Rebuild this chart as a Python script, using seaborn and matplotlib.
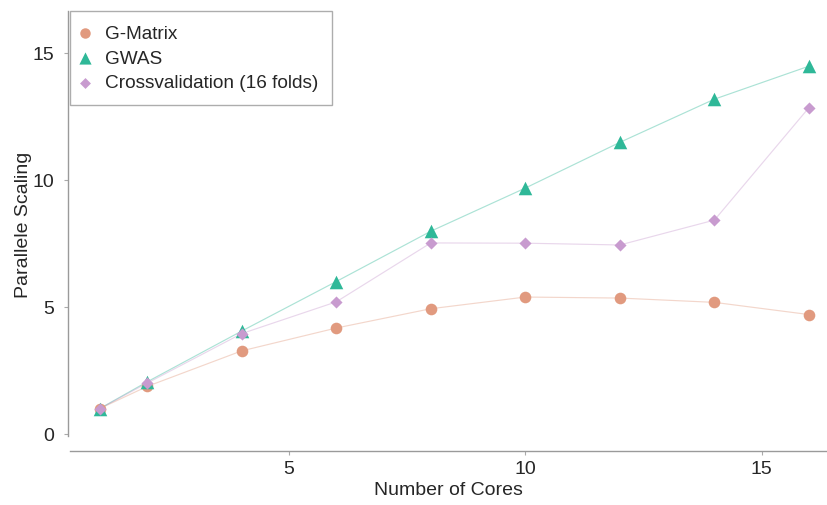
import matplotlib
matplotlib.use('Agg')
import matplotlib.pyplot as plt
import pandas as pd
import seaborn as sns

# Data
CORES = [1, 2, 4, 6, 8, 10, 12, 14, 16]
G_MATRIX = [1.0, 1.87, 3.27, 4.17, 4.93, 5.39, 5.35, 5.18, 4.70]
GWAS = [1.0, 2.05, 4.05, 6.0, 7.98, 9.68, 11.48, 13.18, 14.48]
CROSSVAL = [1.0, 2.0, 3.95, 5.2, 7.52, 7.51, 7.44, 8.42, 12.85]
SERIES = ['G-Matrix', 'GWAS', 'Crossvalidation (16 folds)']

COLORS = ['#e19a7f', '#2fb898', '#c89bcf']
MARKERS = ['o', '^', 'D']
SIZES = [70, 95, 38]

sns.set_theme(style='white')
plt.rcParams['font.family'] = ['Liberation Sans', 'DejaVu Sans']

df = pd.DataFrame({
    'cores': CORES * 3,
    'scaling': G_MATRIX + GWAS + CROSSVAL,
    'series': [s for s in SERIES for _ in CORES],
})

fig = plt.figure(figsize=(8.27, 5.06), dpi=100)
ax = fig.add_axes([70 / 827, 1 - 437 / 506, 1 - 70 / 827, 425 / 506])

# Thin pale connecting lines
for name, color in zip(SERIES, COLORS):
    sub = df[df['series'] == name]
    sns.lineplot(data=sub, x='cores', y='scaling', color=color, alpha=0.4,
                 linewidth=0.85, ax=ax, legend=False)

# Markers
for name, color, marker, size in zip(SERIES, COLORS, MARKERS, SIZES):
    sub = df[df['series'] == name]
    sns.scatterplot(data=sub, x='cores', y='scaling', color=color, marker=marker,
                    s=size, linewidth=0, ax=ax, label=name, zorder=3)

ax.set_xlim(0.37, 16.38)
ax.set_ylim(-0.08, 16.65)
ax.set_xticks([5, 10, 15])
ax.set_yticks([0, 5, 10, 15])

sns.despine(ax=ax)
ax.spines['bottom'].set_position(('outward', 11))
ax.spines['left'].set_position(('outward', 1.5))
for side in ['left', 'bottom']:
    ax.spines[side].set_color('#9a9a9a')
    ax.spines[side].set_linewidth(1.0)
ax.tick_params(axis='both', which='major', length=3, width=0.8, color='#aaaaaa',
               labelsize=14, bottom=True, left=True)
ax.tick_params(axis='y', pad=7)
ax.tick_params(axis='x', pad=3)

ax.set_xlabel('Number of Cores', fontsize=14, labelpad=3)
ax.set_ylabel('Parallele Scaling', fontsize=14, labelpad=0)

leg = ax.legend(loc='upper left', fontsize=13.7, frameon=True, fancybox=False,
                borderaxespad=0, handletextpad=0.95, borderpad=0.7,
                labelspacing=0.4, handlelength=0.2, markerscale=0.9)
leg.get_frame().set_edgecolor('#999999')
leg.get_frame().set_linewidth(1.0)

fig.savefig('out.png', dpi=100)
